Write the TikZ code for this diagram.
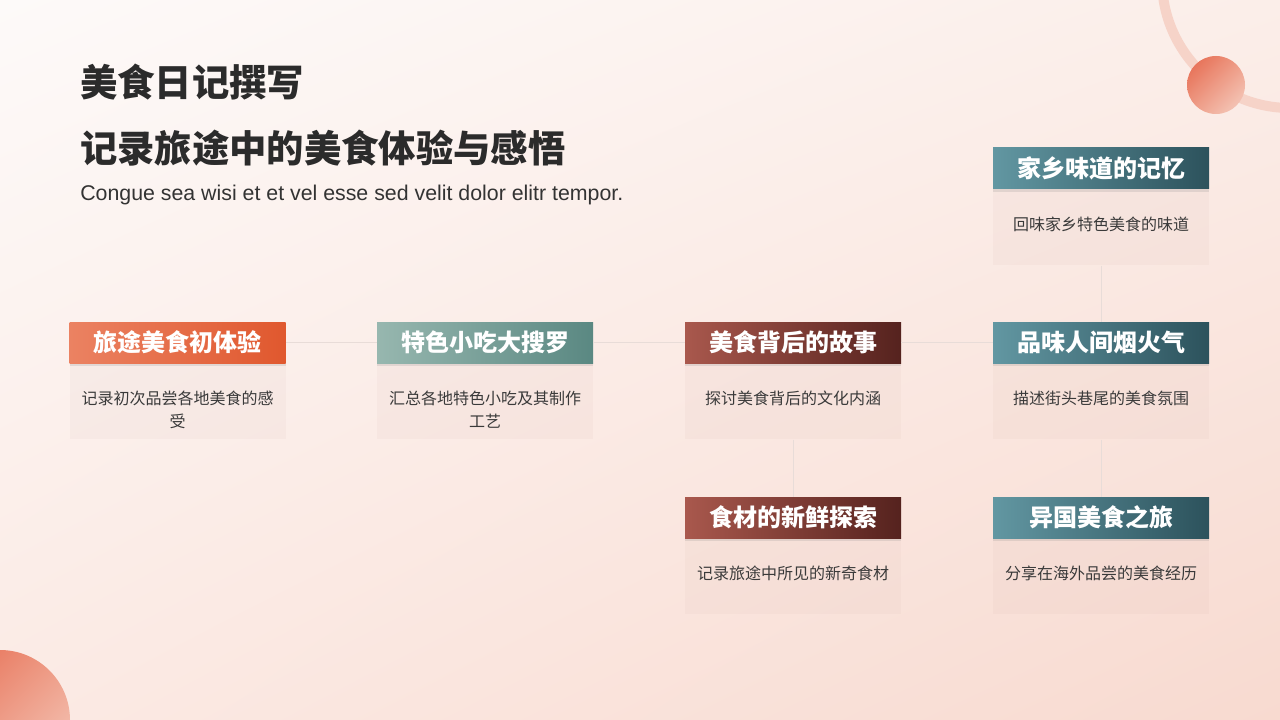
\documentclass[tikz,border=0pt]{standalone}
\usepackage{fontspec}
\setmainfont{Noto Sans CJK SC}
\newfontfamily\latinfont{Liberation Sans}
\usetikzlibrary{shadows,shadings}
\definecolor{bgA}{HTML}{FDFAF9}
\definecolor{bgB}{HTML}{FBEEE9}
\definecolor{bgC}{HTML}{FBEAE4}
\definecolor{bgD}{HTML}{F8DAD0}
\definecolor{arcc}{HTML}{F6D3C8}
\definecolor{dotA}{HTML}{E5654A}
\definecolor{dotB}{HTML}{EE9C86}
\definecolor{dotC}{HTML}{F6D2C6}
\definecolor{titlec}{HTML}{2B2B2B}
\definecolor{subc}{HTML}{333333}
\definecolor{bodyt}{HTML}{3A3A3A}
\definecolor{linec}{HTML}{E8DCD8}
\definecolor{oA}{HTML}{EB8262}
\definecolor{oB}{HTML}{E0582E}
\definecolor{gA}{HTML}{97B7AF}
\definecolor{gB}{HTML}{5A8882}
\definecolor{rA}{HTML}{A9584D}
\definecolor{rB}{HTML}{55221E}
\definecolor{tA}{HTML}{6297A2}
\definecolor{tB}{HTML}{2C525C}
\definecolor{bodyf}{HTML}{8A5A50}
\tikzset{
  hdr/.style={minimum width=162pt, minimum height=30.75pt, inner sep=0pt,
    text=white, font=\bfseries\fontsize{18}{20}\selectfont,
    drop shadow={opacity=0.18, shadow xshift=0pt, shadow yshift=-2.5pt}},
  bodybox/.style={minimum width=162pt, minimum height=57pt, inner sep=0pt,
    anchor=north, fill=bodyf, fill opacity=0.035},
  bodytext/.style={anchor=north, inner sep=0pt, text=bodyt, align=center,
    font=\fontsize{12}{17.25}\selectfont},
  conn/.style={draw=linec, line width=0.75pt},
  ttl/.style={anchor=base west, inner sep=0pt, text=titlec,
    font=\bfseries\fontsize{28}{30}\selectfont}
}
\newcommand\mycard[7]{%
  \node[bodybox] (b#1) at (#2,{#3+41}) {};
  \node[hdr, left color=#4, right color=#5] (h#1) at (#2,{#3+20.5}) {#6};
  \node[bodytext] (t#1) at (#2,{#3+69}) {#7};
}
\begin{document}
\begin{tikzpicture}[x=0.75pt,y=-0.75pt]
\useasboundingbox (0,0) rectangle (1280,720);
\begin{scope}
  \clip (0,0) rectangle (1280,720);
  \shade[upper left=bgA, upper right=bgB, lower left=bgC, lower right=bgD] (0,0) rectangle (1280,720);
  \draw[arcc, line width=7.5pt] (1290,-20) circle[radius=128];
  \shade[upper left=dotA, upper right=dotB, lower left=dotB, lower right=dotC] (1216,85) circle[radius=29];
  \shade[upper left=dotA, upper right=dotB, lower left=dotB, lower right=dotC] (0,720) circle[radius=70];
\end{scope}

\node[ttl] (t0a) at (80,97) {美食日记撰写};
\node[ttl] (t0b) at (80,163) {记录旅途中的美食体验与感悟};
\node[anchor=base west, inner sep=0pt, text=subc, font=\latinfont\fontsize{16}{19}\selectfont] (sub) at (80,201) {Congue sea wisi et et vel esse sed velit dolor elitr tempor.};

\mycard{1}{177.5}{322}{oA}{oB}{旅途美食初体验}{记录初次品尝各地美食的感\\受}
\mycard{2}{485}{322}{gA}{gB}{特色小吃大搜罗}{汇总各地特色小吃及其制作\\工艺}
\mycard{3}{793}{322}{rA}{rB}{美食背后的故事}{探讨美食背后的文化内涵}
\mycard{4}{1101}{322}{tA}{tB}{品味人间烟火气}{描述街头巷尾的美食氛围}
\mycard{5}{793}{497}{rA}{rB}{食材的新鲜探索}{记录旅途中所见的新奇食材}
\mycard{6}{1101}{148}{tA}{tB}{家乡味道的记忆}{回味家乡特色美食的味道}
\mycard{7}{1101}{497}{tA}{tB}{异国美食之旅}{分享在海外品尝的美食经历}

\draw[conn] (h1.east) -- (h2.west);
\draw[conn] (h2.east) -- (h3.west);
\draw[conn] (h3.east) -- (h4.west);
\draw[conn] (b3.south) -- (h5.north);
\draw[conn] (b6.south) -- (h4.north);
\draw[conn] (b4.south) -- (h7.north);
\end{tikzpicture}
\end{document}
